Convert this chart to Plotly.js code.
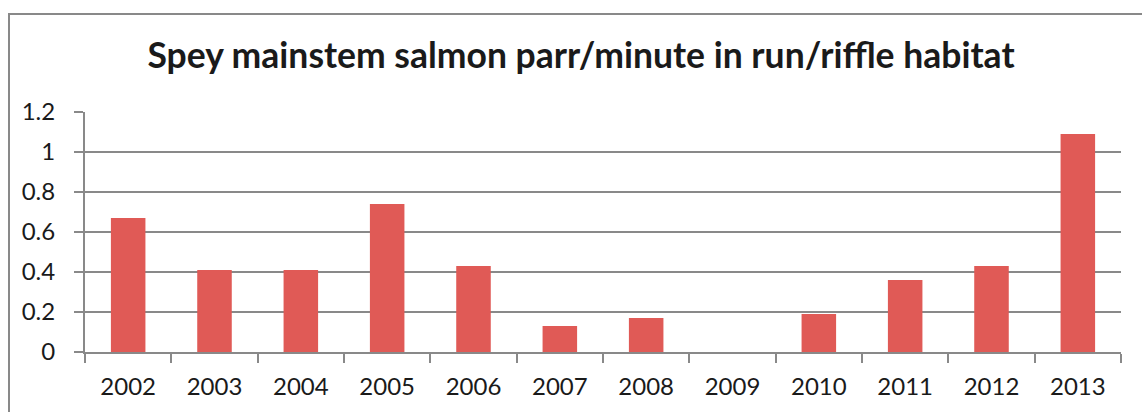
<!DOCTYPE html>
<html>
<head>
<meta charset="utf-8">
<script src="https://cdn.plot.ly/plotly-3.0.1.min.js"></script>
<style>
  html, body { margin: 0; padding: 0; background: #ffffff; overflow: hidden; }
  #frame { position: absolute; left: 8px; top: 13px; width: 1300px; height: 600px;
           border-left: 2px solid #898989; border-top: 2px solid #898989; }
  #chart { position: absolute; left: 0; top: 0; width: 1142px; height: 412px; }
</style>
</head>
<body>
<div id="frame"></div>
<div id="chart"></div>
<script>
const years = ["2002","2003","2004","2005","2006","2007","2008","2009","2010","2011","2012","2013"];
const parrPerMinute = [0.67, 0.41, 0.41, 0.74, 0.43, 0.13, 0.17, 0, 0.19, 0.36, 0.43, 1.09];
const yTicks = [0, 0.2, 0.4, 0.6, 0.8, 1, 1.2];
const chartTitle = "Spey mainstem salmon parr/minute in run/riffle habitat";

const FONT = "Lato, 'Open Sans', sans-serif";
const GRID = "#898989";
const TEXT = "#1a1a1a";

const trace = {
  type: "bar",
  x: years,
  y: parrPerMinute,
  marker: { color: "#E05A56" },
  hoverinfo: "x+y"
};

const layout = {
  width: 1142,
  height: 412,
  margin: { l: 85, r: 21, t: 112, b: 60 },
  paper_bgcolor: "rgba(0,0,0,0)",
  plot_bgcolor: "rgba(0,0,0,0)",
  bargap: 0.6,
  showlegend: false,
  font: { family: FONT, color: TEXT, size: 24 },
  title: {
    text: "<b>" + chartTitle + "</b>",
    font: { family: FONT, size: 35.5, color: TEXT },
    x: 581 / 1142,
    xref: "container",
    xanchor: "center",
    y: 1 - 56 / 412,
    yref: "container",
    yanchor: "middle"
  },
  xaxis: {
    type: "category",
    showline: true,
    linecolor: GRID,
    linewidth: 2,
    ticks: "outside",
    tickson: "boundaries",
    ticklen: 9,
    tickwidth: 2,
    tickcolor: GRID,
    showgrid: false,
    ticklabelstandoff: 12,
    tickfont: { family: FONT, size: 24, color: TEXT },
    fixedrange: true
  },
  yaxis: {
    range: [0, 1.2],
    tickvals: yTicks,
    showline: true,
    linecolor: GRID,
    linewidth: 2,
    ticks: "outside",
    ticklen: 9,
    tickwidth: 2,
    tickcolor: GRID,
    showgrid: true,
    gridcolor: GRID,
    gridwidth: 2,
    zeroline: false,
    ticklabelstandoff: 14,
    tickfont: { family: FONT, size: 24, color: TEXT },
    fixedrange: true
  }
};

Plotly.newPlot("chart", [trace], layout, { displayModeBar: false, staticPlot: true });
</script>
</body>
</html>
